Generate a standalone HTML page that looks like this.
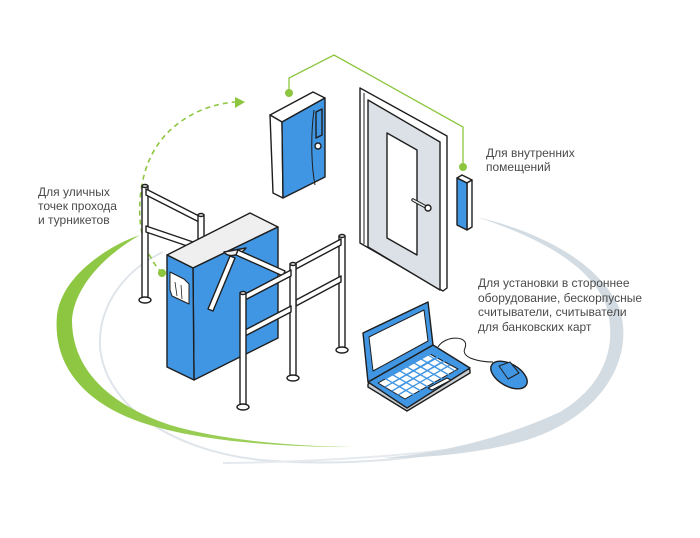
<!DOCTYPE html>
<html><head><meta charset="utf-8"><style>
html,body{margin:0;padding:0;background:#fff}
svg{display:block}
text{font-family:"Liberation Sans",sans-serif;font-size:12px;fill:#4a4a4a}
</style></head><body>
<svg width="700" height="538" viewBox="0 0 700 538" xmlns="http://www.w3.org/2000/svg">
<defs>
<linearGradient id="gg" x1="0" y1="0" x2="1" y2="0"><stop offset="0" stop-color="#8cc63f"/><stop offset="1" stop-color="#a5d46a"/></linearGradient>
</defs>
<!-- gray thin ellipse -->
<path d="M163,252 C125,270 98,305 100,347 C105,405 170,450 260,460 C380,470 520,450 590,400" fill="none" stroke="#dfe5ea" stroke-width="2"/>
<path d="M223,463 C320,462 420,455 480,445" fill="none" stroke="#e6eaee" stroke-width="2"/>
<!-- gray right arc -->
<path d="M477,217 C540,232 600,262 620,310 C635,360 600,420 520,442 C470,455 420,458 380,458 C430,455 500,440 560,412 C605,385 618,345 606,305 C590,265 540,238 477,217 Z" fill="#d3dce2"/>
<!-- green swoosh -->
<path d="M140,235 C110,245 62,275 57,315 C52,370 90,410 160,428 C220,444 300,447 353,447 C290,446 220,440 170,425 C110,405 72,370 72,320 C74,290 100,258 140,235 Z" fill="url(#gg)"/>
<!-- dashed arc -->
<path d="M162,273 C145,255 138,230 140,200 C143,160 160,130 197,112 C212,105 225,103 235,102" fill="none" stroke="#8cc63f" stroke-width="1.6" stroke-dasharray="5,4"/>
<polygon points="245,102 235,97 235,108" fill="#8cc63f"/>
<circle cx="162" cy="273" r="4" fill="#8cc63f"/>
<!-- green connector -->
<polyline points="289,93 289,78 334,55 463,127 463,167" fill="none" stroke="#8cc63f" stroke-width="1.3"/>
<circle cx="289" cy="93" r="4" fill="#8cc63f"/>
<circle cx="463" cy="167" r="4" fill="#8cc63f"/>

<g stroke="#1e1e1e" stroke-width="1.4" stroke-linejoin="round">
<!-- wall controller -->
<polygon points="270,115 313,92 325,98 282,122" fill="#fff"/>
<polygon points="270,115 282,122 283,198 273,193" fill="#fff"/>
<polygon points="282,122 325,98 325,177 283,198" fill="#4196e3"/>
<path d="M316,112 L322,109 L322,135 L316,138 Z" fill="#4196e3"/>
<path d="M314,110 C310,140 312,170 315,185" fill="none" stroke-width="1"/>
<circle cx="318" cy="146" r="3" fill="#fff"/>
<!-- door -->
<polygon points="360,88 447,136 447,288 443,291 360,243" fill="#fff"/>
<polygon points="368,100 440,142 440,290 368,247" fill="#dbe1e6"/>
<line x1="364" y1="93" x2="364" y2="244" stroke-width="1"/>
<polygon points="387,133 417,150 417,255 387,238" fill="#fff"/>
<line x1="413" y1="200" x2="426" y2="207" stroke-width="3.5" stroke-linecap="round"/>
<line x1="413" y1="200" x2="426" y2="207" stroke="#eef1f3" stroke-width="1.5" stroke-linecap="round"/>
<circle cx="428" cy="208" r="3" fill="#fff"/>
<!-- wall reader -->
<polygon points="457,178 462,175 472,180 467,183" fill="#fff"/>
<polygon points="467,183 472,180 472,227 467,230" fill="#fff"/>
<polygon points="457,178 467,183 467,230 457,225" fill="#4196e3"/>

<!-- left railing -->
<rect x="142" y="186" width="6" height="114" fill="#fff"/>
<ellipse cx="145" cy="300" rx="6" ry="3" fill="#fff"/>
<ellipse cx="145" cy="186" rx="3" ry="1.5" fill="#fff"/>
<polygon points="146,189 201,217 201,223 146,195" fill="#fff"/>
<polygon points="146,226 199,244 199,250 146,232" fill="#fff"/>
<rect x="198" y="215" width="6" height="40" fill="#fff"/>
<ellipse cx="201" cy="215" rx="3" ry="1.5" fill="#fff"/>

<!-- turnstile cabinet -->
<polygon points="167,255 193,268 278,227 250,213" fill="#efefef"/>
<polygon points="193,268 278,227 278,338 194,380" fill="#4196e3"/>
<polygon points="167,255 193,268 194,380 167,367" fill="#4196e3"/>
<path d="M170,272 L184,279 L189,284 L189,304 L172,296 L170,290 Z" fill="#fff" stroke-width="1"/>
<path d="M175,282 L177,296 M181,285 L182,299" stroke-width="0.8"/>
<!-- tripod -->
<path d="M224,252 C228,258 240,256 246,248 Z" fill="#eee"/>
<polygon points="230,256 235,258 213,311 208,309" fill="#fff"/>
<polygon points="238,250 285,271 283,276 236,255" fill="#fff"/>

<!-- right railings -->
<rect x="339" y="236" width="6" height="114" fill="#fff"/>
<ellipse cx="342" cy="350" rx="6" ry="3" fill="#fff"/>
<ellipse cx="342" cy="236" rx="3" ry="1.5" fill="#fff"/>
<polygon points="296,263 341,239 341,245 296,269" fill="#fff"/>
<polygon points="296,300 341,276 341,282 296,306" fill="#fff"/>
<rect x="290" y="264" width="6" height="114" fill="#fff"/>
<ellipse cx="293" cy="378" rx="6" ry="3" fill="#fff"/>
<ellipse cx="293" cy="264" rx="3" ry="1.5" fill="#fff"/>
<polygon points="245,294 291,270 291,276 245,300" fill="#fff"/>
<polygon points="245,330 291,306 291,312 245,336" fill="#fff"/>
<rect x="240" y="293" width="6" height="114" fill="#fff"/>
<ellipse cx="243" cy="407" rx="6" ry="3" fill="#fff"/>
<ellipse cx="243" cy="293" rx="3" ry="1.5" fill="#fff"/>

<!-- laptop -->
<polygon points="368,384 433,347 470,370 470,373 407,411 368,387" fill="#c9ced3"/>
<polygon points="368,382 433,345 470,368 407,408" fill="#4196e3"/>
<polygon points="363,333 428,302 433,345 368,382" fill="#4196e3"/>
<polygon points="369,337 424,310 428,341 373,371" fill="#fff" stroke-width="1"/>
<polygon points="378,383 430,354 458,369 405,399" fill="#fff" stroke-width="1"/>
<g stroke="#4196e3" stroke-width="1.3">
<line x1="385" y1="379" x2="437" y2="350"/><line x1="392" y1="383" x2="444" y2="354"/><line x1="398" y1="387" x2="450" y2="358"/>
<line x1="385" y1="387" x2="437" y2="357"/><line x1="392" y1="391" x2="444" y2="361"/><line x1="398" y1="395" x2="450" y2="365"/>
<line x1="386" y1="379" x2="414" y2="395"/><line x1="393" y1="375" x2="421" y2="391"/><line x1="400" y1="371" x2="428" y2="387"/><line x1="407" y1="367" x2="435" y2="383"/><line x1="414" y1="363" x2="442" y2="379"/><line x1="421" y1="359" x2="449" y2="375"/><line x1="428" y1="355" x2="455" y2="371"/>
</g>
<polygon points="428,388 447,378 451,380 432,390" fill="#fff" stroke-width="1"/>
<!-- cord & mouse -->
<path d="M438,347 C445,335 470,335 465,348 C460,358 480,362 493,362" fill="none" stroke-width="1"/>
<ellipse cx="509" cy="375" rx="20" ry="11" transform="rotate(30 509 375)" fill="#4196e3"/>
<path d="M499,366 L510,362 L519,373 L508,379 Z" fill="#4196e3" stroke-width="1"/>
</g>

<text x="38" y="196">Для уличных</text>
<text x="38" y="210">точек прохода</text>
<text x="38" y="224">и турникетов</text>
<text x="486" y="157">Для внутренних</text>
<text x="486" y="171">помещений</text>
<text x="478" y="287">Для установки в стороннее</text>
<text x="478" y="302">оборудование, бескорпусные</text>
<text x="478" y="316">считыватели, считыватели</text>
<text x="478" y="331">для банковских карт</text>
</svg>
</body></html>
